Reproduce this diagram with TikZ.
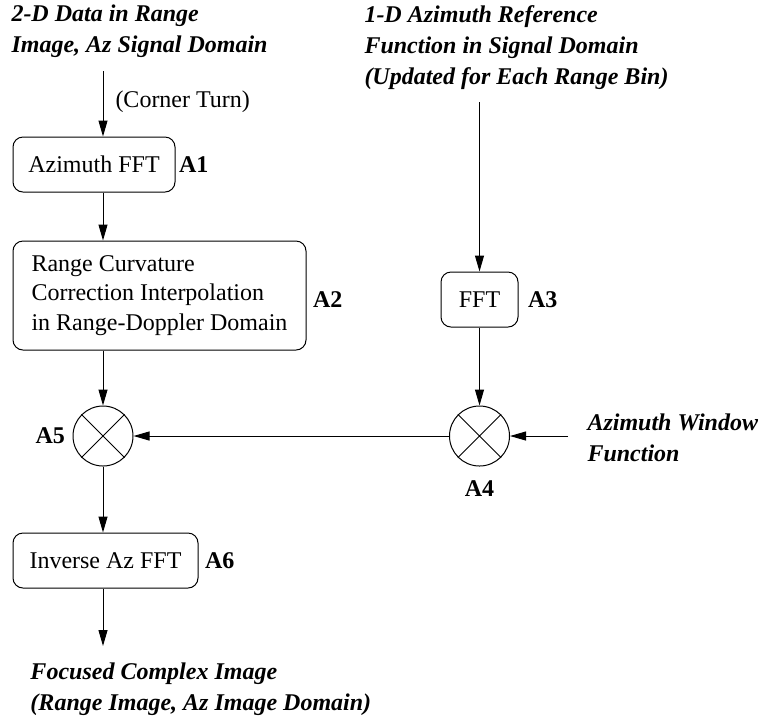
\documentclass[tikz,border=0pt]{standalone}
\usepackage{fontspec}
\setmainfont{Liberation Serif}
\usetikzlibrary{arrows.meta,positioning}

\begin{document}
\begin{tikzpicture}[
      x=0.5pt,y=-0.5pt,
      font=\fontsize{12}{14.75}\selectfont,
      line width=0.5pt,
      node distance=3pt,
      box/.style={draw,rounded corners=5pt,minimum height=27.5pt,align=center},
      mult/.style={draw,circle,minimum size=30pt,inner sep=0pt},
      tag/.style={font=\fontsize{12}{15}\selectfont\bfseries,inner sep=0pt},
      note/.style={font=\fontsize{12}{15.5}\selectfont\bfseries\itshape,align=left,inner sep=0pt},
      link/.style={-{Triangle[length=8pt,width=4.5pt]}}
    ]
    \useasboundingbox (0,0) rectangle (760,720);

    % inputs and output
    \node[note,anchor=west] (src) at (11,31.5) {2-D Data in Range\\Image, Az Signal Domain};
    \node[note,anchor=west] (ref) at (364,48) {1-D Azimuth Reference\\Function in Signal Domain\\(Updated for Each Range Bin)};
    \node[note,anchor=west] (wnd) at (587,438) {Azimuth Window\\Function};
    \node[note,anchor=west] (img) at (30,689) {Focused Complex Image\\(Range Image, Az Image Domain)};
    \coordinate (in1) at (103,71);
    \coordinate (in3) at (479.5,102);
    \coordinate (win) at (568,436);
    \coordinate (out) at (103,646);

    % processing blocks
    \node[box,minimum width=81pt] (fft1) at (94,164.5) {Azimuth FFT};
    \node[box,minimum width=146.5pt,minimum height=54.5pt,align=left] (rcc) at (159.5,295.5) {Range Curvature\\Correction Interpolation\\in Range-Doppler Domain};
    \node[box,minimum width=38.5pt] (fft3) at (479.5,299.5) {FFT};
    \node[box,minimum width=92.5pt] (ifft) at (105.5,560.5) {Inverse Az FFT};
    \node[mult] (A5) at (103,436) {};
    \node[mult] (A4) at (479.5,436) {};
    \foreach \m in {A4,A5}
      \draw (\m.north east) -- (\m.south west) (\m.north west) -- (\m.south east);

    % block tags
    \node[tag,right=1.5pt of fft1] (t1) {A1};
    \node[tag,right=3pt of rcc,yshift=-2pt] (t2) {A2};
    \node[tag,right=4.5pt of fft3] (t3) {A3};
    \node[tag,below=7pt of A4] (t4) {A4};
    \node[tag,left=3.5pt of A5] (t5) {A5};
    \node[tag,right=3pt of ifft] (t6) {A6};
    \node[anchor=west,inner sep=0pt] (ct) at (115,102) {(Corner Turn)};

    % signal flow
    \draw[link] (in1) -- (in1 |- fft1.north);
    \draw[link] (fft1.south -| in1) -- (rcc.north -| in1);
    \draw[link] (rcc.south -| A5) -- (A5);
    \draw[link] (A5) -- (ifft.north -| A5);
    \draw[link] (ifft.south -| A5) -- (out);
    \draw[link] (in3) -- (fft3);
    \draw[link] (fft3) -- (A4);
    \draw[link] (win) -- (A4);
    \draw[link] (A4) -- (A5);
  \end{tikzpicture}
\end{document}
